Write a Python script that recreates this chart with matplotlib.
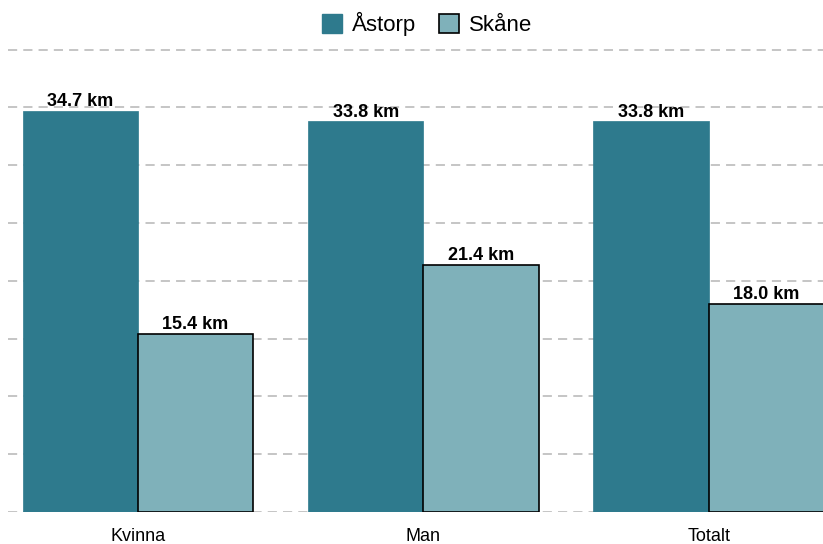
import numpy as np
import matplotlib.pyplot as plt
from matplotlib.patches import Patch

plt.rcParams['font.family'] = ['Liberation Sans', 'DejaVu Sans']

# data
categories = ['Kvinna', 'Man', 'Totalt']
astorp = [34.7, 33.8, 33.8]
skane = [15.4, 21.4, 18.0]
series_names = ['Åstorp', 'Skåne']

col_a = '#2e7a8d'
col_s = '#7fb1ba'

fig = plt.figure(figsize=(8.23, 5.44), dpi=100)
ax = fig.add_axes([8 / 823, 1 - 512 / 544, 1 - 8 / 823, (512 - 45) / 544])

x = np.arange(len(categories))
w = 0.404
b1 = ax.bar(x - w / 2, astorp, w, color=col_a, edgecolor=col_a, linewidth=0.5, zorder=3)
b2 = ax.bar(x + w / 2, skane, w, color=col_s, edgecolor='black', linewidth=1.2, zorder=3)

for bars, vals in [(b1, astorp), (b2, skane)]:
    for r, v in zip(bars, vals):
        ax.text(r.get_x() + r.get_width() / 2, v + 0.05, f'{v:.1f} km',
                ha='center', va='bottom', fontsize=13, fontweight='bold', zorder=4)

ax.set_xlim(-0.455, 2.40)
ax.set_ylim(0, 40.4)
ax.set_yticks(np.arange(0, 41, 5))
ax.yaxis.grid(True, color='#b5b5b5', linestyle=(0, (6, 4)), linewidth=1.1, zorder=0)
ax.set_axisbelow(True)
ax.tick_params(axis='y', left=False, labelleft=False)
ax.tick_params(axis='x', bottom=False, labelsize=13, pad=8)
ax.set_xticks(x)
ax.set_xticklabels(categories)
for s in ax.spines.values():
    s.set_visible(False)

handles = [Patch(facecolor=col_a, edgecolor=col_a),
           Patch(facecolor=col_s, edgecolor='black', linewidth=1.2)]
fig.legend(handles, series_names, loc='upper center', bbox_to_anchor=(0.519, 1.015),
           ncol=2, frameon=False, fontsize=16, handlelength=0.9, handleheight=0.9,
           handletextpad=0.45, columnspacing=1.0)

fig.savefig('out.png', dpi=100)
